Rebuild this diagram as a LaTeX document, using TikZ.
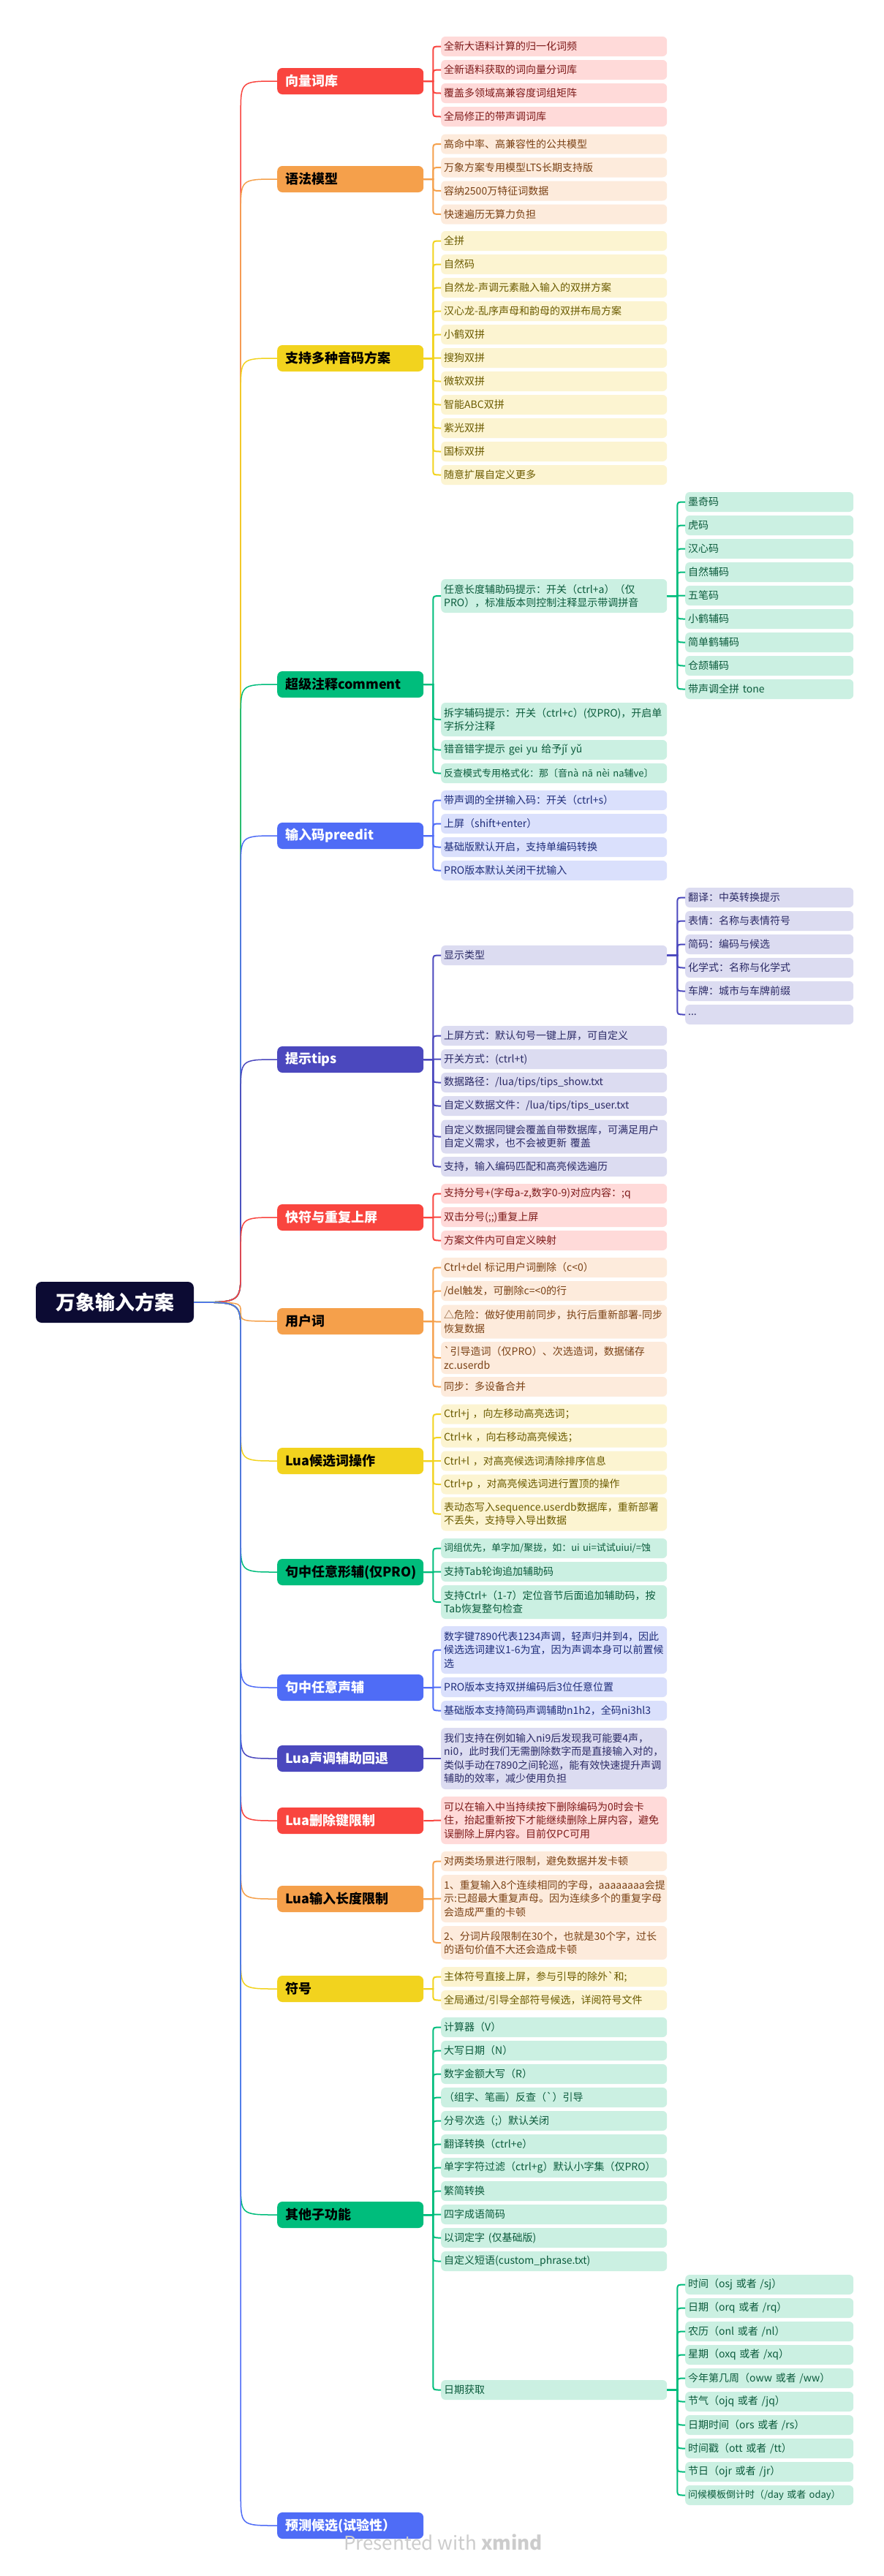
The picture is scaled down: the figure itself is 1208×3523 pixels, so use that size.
\documentclass[tikz,border=0pt]{standalone}
\usepackage{fontspec}
\newfontfamily\cjk{Noto Sans CJK SC}
\usetikzlibrary{calc}

\definecolor{cNavy}{HTML}{0C0B33}
\definecolor{cRed}{HTML}{F9453F}
\definecolor{cRedLight}{HTML}{FFDAD9}
\definecolor{cRedText}{HTML}{7D1A1A}
\definecolor{cOrange}{HTML}{F5A04B}
\definecolor{cOrangeLight}{HTML}{FDEBDC}
\definecolor{cOrangeText}{HTML}{7A4115}
\definecolor{cYellow}{HTML}{F2D31E}
\definecolor{cYellowLight}{HTML}{FCF4D1}
\definecolor{cYellowText}{HTML}{6B5B00}
\definecolor{cGreen}{HTML}{00BD7C}
\definecolor{cGreenLight}{HTML}{CBF0E2}
\definecolor{cGreenText}{HTML}{0B5B3C}
\definecolor{cBlue}{HTML}{4F6CF6}
\definecolor{cBlueLight}{HTML}{DAE0FC}
\definecolor{cBlueText}{HTML}{1F2D7A}
\definecolor{cIndigo}{HTML}{4B48BE}
\definecolor{cIndigoLight}{HTML}{DCDCF1}
\definecolor{cIndigoText}{HTML}{2B2A66}

\newcommand\joinbranch[2]{%
  \draw[#1, line width=1.5pt] let \p1=(root.east), \p2=(#2.west),
    \n1={ifthenelse(\y2>\y1,1,-1)*min(45,abs(\y2-\y1)/2)} in
    (\p1) .. controls (\x1+64,\y1) .. (\x1+64,\y1+\n1)
    -- (\x1+64,\y2-\n1) .. controls (\x1+64,\y2) .. (\p2);}
\newcommand\joinleaf[4]{%
  \draw[#1, line width=2pt] let \p1=(#2.east), \p2=(#3.west),
    \n1={ifthenelse(\y1>\y2,1,-1)*min(7,abs(\y1-\y2))} in
    (\p1) -- (\x1+#4,\y1) -- (\x1+#4,\y2+\n1) .. controls (\x1+#4,\y2) .. (\p2);}

\begin{document}
\begin{tikzpicture}
  [x=1pt, y=-1pt,
    every node/.style={font=\cjk\fontsize{14}{18.5}\selectfont},
    root/.style={fill=cNavy, text=white, rounded corners=8pt, minimum width=216pt,
      minimum height=56pt, font=\cjk\bfseries\fontsize{27}{32}\selectfont},
    branch/.style={fill=#1, rounded corners=7pt, anchor=west, minimum height=36pt,
      text width=178pt, inner xsep=11pt, inner ysep=2pt, align=left,
      font=\cjk\bfseries\fontsize{18}{22}\selectfont},
    leaf/.style={fill=#1Light, text=#1Text, rounded corners=6pt, anchor=west,
      minimum height=27pt, text width=301pt, inner xsep=4pt, inner ysep=2pt, align=left},
    sub/.style={leaf=#1, text width=222pt},
    tight/.style={font=\cjk\fontsize{13}{18.5}\selectfont},
    two/.style={minimum height=46pt},
    three/.style={minimum height=65pt},
    four/.style={minimum height=84pt},
  ]
  \fill[white] (0,0) rectangle (1208,3523);
  \node[root] (root) at (157,1781) {万象输入方案};

  \node[branch=cRed, text=white] (vec) at (379,111) {向量词库};
  \node[leaf=cRed] (vec1) at (603,63.5) {全新大语料计算的归一化词频};
  \node[leaf=cRed] (vec2) at (603,95.5) {全新语料获取的词向量分词库};
  \node[leaf=cRed] (vec3) at (603,127.5) {覆盖多领域高兼容度词组矩阵};
  \node[leaf=cRed] (vec4) at (603,159.5) {全局修正的带声调词库};
  \joinbranch{cRed}{vec}
  \joinleaf{cRed}{vec}{vec1}{13}
  \joinleaf{cRed}{vec}{vec2}{13}
  \joinleaf{cRed}{vec}{vec3}{13}
  \joinleaf{cRed}{vec}{vec4}{13}

  \node[branch=cOrange, text=black] (gram) at (379,245) {语法模型};
  \node[leaf=cOrange] (gram1) at (603,197) {高命中率、高兼容性的公共模型};
  \node[leaf=cOrange] (gram2) at (603,229) {万象方案专用模型LTS长期支持版};
  \node[leaf=cOrange] (gram3) at (603,261) {容纳2500万特征词数据};
  \node[leaf=cOrange] (gram4) at (603,293) {快速遍历无算力负担};
  \joinbranch{cOrange}{gram}
  \joinleaf{cOrange}{gram}{gram1}{13}
  \joinleaf{cOrange}{gram}{gram2}{13}
  \joinleaf{cOrange}{gram}{gram3}{13}
  \joinleaf{cOrange}{gram}{gram4}{13}

  \node[branch=cYellow, text=black] (scheme) at (379,490) {支持多种音码方案};
  \node[leaf=cYellow] (sch1) at (603,329.5) {全拼};
  \node[leaf=cYellow] (sch2) at (603,361.5) {自然码};
  \node[leaf=cYellow] (sch3) at (603,393.5) {自然龙-声调元素融入输入的双拼方案};
  \node[leaf=cYellow] (sch4) at (603,425.5) {汉心龙-乱序声母和韵母的双拼布局方案};
  \node[leaf=cYellow] (sch5) at (603,457.5) {小鹤双拼};
  \node[leaf=cYellow] (sch6) at (603,489.5) {搜狗双拼};
  \node[leaf=cYellow] (sch7) at (603,521.5) {微软双拼};
  \node[leaf=cYellow] (sch8) at (603,553.5) {智能ABC双拼};
  \node[leaf=cYellow] (sch9) at (603,585.5) {紫光双拼};
  \node[leaf=cYellow] (sch10) at (603,617.5) {国标双拼};
  \node[leaf=cYellow] (sch11) at (603,649.5) {随意扩展自定义更多};
  \joinbranch{cYellow}{scheme}
  \joinleaf{cYellow}{scheme}{sch1}{13}
  \joinleaf{cYellow}{scheme}{sch2}{13}
  \joinleaf{cYellow}{scheme}{sch3}{13}
  \joinleaf{cYellow}{scheme}{sch4}{13}
  \joinleaf{cYellow}{scheme}{sch5}{13}
  \joinleaf{cYellow}{scheme}{sch6}{13}
  \joinleaf{cYellow}{scheme}{sch7}{13}
  \joinleaf{cYellow}{scheme}{sch8}{13}
  \joinleaf{cYellow}{scheme}{sch9}{13}
  \joinleaf{cYellow}{scheme}{sch10}{13}
  \joinleaf{cYellow}{scheme}{sch11}{13}

  \node[branch=cGreen, text=black] (cmt) at (379,936) {超级注释comment};
  \node[leaf=cGreen, two] (cmt1) at (603,815) {任意长度辅助码提示：开关（ctrl+a）（仅\\PRO），标准版本则控制注释显示带调拼音};
  \node[leaf=cGreen, two] (cmt2) at (603,984) {拆字辅码提示：开关（ctrl+c）(仅PRO)，开启单\\字拆分注释};
  \node[leaf=cGreen] (cmt3) at (603,1025.5) {错音错字提示 gei yu 给予jǐ yǔ};
  \node[leaf=cGreen, tight] (cmt4) at (603,1057.5) {反查模式专用格式化：那〔音nà nā nèi na辅ve〕};
  \node[sub=cGreen] (aux1) at (937,686.5) {墨奇码};
  \node[sub=cGreen] (aux2) at (937,718.5) {虎码};
  \node[sub=cGreen] (aux3) at (937,750.5) {汉心码};
  \node[sub=cGreen] (aux4) at (937,782.5) {自然辅码};
  \node[sub=cGreen] (aux5) at (937,814.5) {五笔码};
  \node[sub=cGreen] (aux6) at (937,846.5) {小鹤辅码};
  \node[sub=cGreen] (aux7) at (937,878.5) {简单鹤辅码};
  \node[sub=cGreen] (aux8) at (937,910.5) {仓颉辅码};
  \node[sub=cGreen] (aux9) at (937,942.5) {带声调全拼 tone};
  \joinbranch{cGreen}{cmt}
  \joinleaf{cGreen}{cmt}{cmt1}{13}
  \joinleaf{cGreen}{cmt}{cmt2}{13}
  \joinleaf{cGreen}{cmt}{cmt3}{13}
  \joinleaf{cGreen}{cmt}{cmt4}{13}
  \joinleaf{cGreen}{cmt1}{aux1}{14}
  \joinleaf{cGreen}{cmt1}{aux2}{14}
  \joinleaf{cGreen}{cmt1}{aux3}{14}
  \joinleaf{cGreen}{cmt1}{aux4}{14}
  \joinleaf{cGreen}{cmt1}{aux5}{14}
  \joinleaf{cGreen}{cmt1}{aux6}{14}
  \joinleaf{cGreen}{cmt1}{aux7}{14}
  \joinleaf{cGreen}{cmt1}{aux8}{14}
  \joinleaf{cGreen}{cmt1}{aux9}{14}

  \node[branch=cBlue, text=white] (pre) at (379,1143) {输入码preedit};
  \node[leaf=cBlue] (pre1) at (603,1094.5) {带声调的全拼输入码：开关（ctrl+s）};
  \node[leaf=cBlue] (pre2) at (603,1126.5) {上屏（shift+enter）};
  \node[leaf=cBlue] (pre3) at (603,1158.5) {基础版默认开启，支持单编码转换};
  \node[leaf=cBlue] (pre4) at (603,1190.5) {PRO版本默认关闭干扰输入};
  \joinbranch{cBlue}{pre}
  \joinleaf{cBlue}{pre}{pre1}{13}
  \joinleaf{cBlue}{pre}{pre2}{13}
  \joinleaf{cBlue}{pre}{pre3}{13}
  \joinleaf{cBlue}{pre}{pre4}{13}

  \node[branch=cIndigo, text=white] (tips) at (379,1449) {提示tips};
  \node[leaf=cIndigo] (tip1) at (603,1306.5) {显示类型};
  \node[leaf=cIndigo] (tip2) at (603,1416.5) {上屏方式：默认句号一键上屏，可自定义};
  \node[leaf=cIndigo] (tip3) at (603,1448.5) {开关方式：(ctrl+t)};
  \node[leaf=cIndigo] (tip4) at (603,1480.5) {数据路径：/lua/tips/tips\_show.txt};
  \node[leaf=cIndigo] (tip5) at (603,1512.5) {自定义数据文件：/lua/tips/tips\_user.txt};
  \node[leaf=cIndigo, two] (tip6) at (603,1554.5) {自定义数据同键会覆盖自带数据库，可满足用户\\自定义需求，也不会被更新 覆盖};
  \node[leaf=cIndigo] (tip7) at (603,1595.5) {支持，输入编码匹配和高亮候选遍历};
  \node[sub=cIndigo] (kind1) at (937,1227.5) {翻译：中英转换提示};
  \node[sub=cIndigo] (kind2) at (937,1259.5) {表情：名称与表情符号};
  \node[sub=cIndigo] (kind3) at (937,1291.5) {简码：编码与候选};
  \node[sub=cIndigo] (kind4) at (937,1323.5) {化学式：名称与化学式};
  \node[sub=cIndigo] (kind5) at (937,1355.5) {车牌：城市与车牌前缀};
  \node[sub=cIndigo] (kind6) at (937,1387.5) {...};
  \joinbranch{cIndigo}{tips}
  \joinleaf{cIndigo}{tips}{tip1}{13}
  \joinleaf{cIndigo}{tips}{tip2}{13}
  \joinleaf{cIndigo}{tips}{tip3}{13}
  \joinleaf{cIndigo}{tips}{tip4}{13}
  \joinleaf{cIndigo}{tips}{tip5}{13}
  \joinleaf{cIndigo}{tips}{tip6}{13}
  \joinleaf{cIndigo}{tips}{tip7}{13}
  \joinleaf{cIndigo}{tip1}{kind1}{14}
  \joinleaf{cIndigo}{tip1}{kind2}{14}
  \joinleaf{cIndigo}{tip1}{kind3}{14}
  \joinleaf{cIndigo}{tip1}{kind4}{14}
  \joinleaf{cIndigo}{tip1}{kind5}{14}
  \joinleaf{cIndigo}{tip1}{kind6}{14}

  \node[branch=cRed, text=white] (quick) at (379,1665) {快符与重复上屏};
  \node[leaf=cRed] (quick1) at (603,1632.5) {支持分号+(字母a-z,数字0-9)对应内容：;q};
  \node[leaf=cRed] (quick2) at (603,1664.5) {双击分号(;;)重复上屏};
  \node[leaf=cRed] (quick3) at (603,1696.5) {方案文件内可自定义映射};
  \joinbranch{cRed}{quick}
  \joinleaf{cRed}{quick}{quick1}{13}
  \joinleaf{cRed}{quick}{quick2}{13}
  \joinleaf{cRed}{quick}{quick3}{13}

  \node[branch=cOrange, text=black] (user) at (379,1807) {用户词};
  \node[leaf=cOrange] (user1) at (603,1733.5) {Ctrl+del 标记用户词删除（c<0）};
  \node[leaf=cOrange] (user2) at (603,1765.5) {/del触发，可删除c=<0的行};
  \node[leaf=cOrange, two] (user3) at (603,1807.5) {△危险：做好使用前同步，执行后重新部署-同步\\恢复数据};
  \node[leaf=cOrange, minimum height=44pt] (user4) at (603,1857) {`引导造词（仅PRO）、次选造词，数据储存\\zc.userdb};
  \node[leaf=cOrange] (user5) at (603,1896.5) {同步：多设备合并};
  \joinbranch{cOrange}{user}
  \joinleaf{cOrange}{user}{user1}{13}
  \joinleaf{cOrange}{user}{user2}{13}
  \joinleaf{cOrange}{user}{user3}{13}
  \joinleaf{cOrange}{user}{user4}{13}
  \joinleaf{cOrange}{user}{user5}{13}

  \node[branch=cYellow, text=black] (cand) at (379,1998) {Lua候选词操作};
  \node[leaf=cYellow] (cand1) at (603,1934) {Ctrl+j ，向左移动高亮选词；};
  \node[leaf=cYellow] (cand2) at (603,1966) {Ctrl+k ，向右移动高亮候选；};
  \node[leaf=cYellow] (cand3) at (603,1998) {Ctrl+l ，对高亮候选词清除排序信息};
  \node[leaf=cYellow] (cand4) at (603,2030) {Ctrl+p ，对高亮候选词进行置顶的操作};
  \node[leaf=cYellow, two] (cand5) at (603,2070.5) {表动态写入sequence.userdb数据库，重新部署\\不丢失，支持导入导出数据};
  \joinbranch{cYellow}{cand}
  \joinleaf{cYellow}{cand}{cand1}{13}
  \joinleaf{cYellow}{cand}{cand2}{13}
  \joinleaf{cYellow}{cand}{cand3}{13}
  \joinleaf{cYellow}{cand}{cand4}{13}
  \joinleaf{cYellow}{cand}{cand5}{13}

  \node[branch=cGreen, text=black] (shape) at (379,2150) {句中任意形辅(仅PRO)};
  \node[leaf=cGreen, tight] (shape1) at (603,2117.5) {词组优先，单字加/聚拢，如：ui ui=试试uiui/=蚀};
  \node[leaf=cGreen] (shape2) at (603,2149.5) {支持Tab轮询追加辅助码};
  \node[leaf=cGreen, two] (shape3) at (603,2191) {支持Ctrl+（1-7）定位音节后面追加辅助码，按\\Tab恢复整句检查};
  \joinbranch{cGreen}{shape}
  \joinleaf{cGreen}{shape}{shape1}{13}
  \joinleaf{cGreen}{shape}{shape2}{13}
  \joinleaf{cGreen}{shape}{shape3}{13}

  \node[branch=cBlue, text=white] (tone) at (379,2308) {句中任意声辅};
  \node[leaf=cBlue, three] (tone1) at (603,2256.5) {数字键7890代表1234声调，轻声归并到4，因此\\候选选词建议1-6为宜，因为声调本身可以前置候\\选};
  \node[leaf=cBlue] (tone2) at (603,2307.5) {PRO版本支持双拼编码后3位任意位置};
  \node[leaf=cBlue] (tone3) at (603,2339.5) {基础版本支持简码声调辅助n1h2，全码ni3hl3};
  \joinbranch{cBlue}{tone}
  \joinleaf{cBlue}{tone}{tone1}{13}
  \joinleaf{cBlue}{tone}{tone2}{13}
  \joinleaf{cBlue}{tone}{tone3}{13}

  \node[branch=cIndigo, text=white] (back) at (379,2405) {Lua声调辅助回退};
  \node[leaf=cIndigo, four] (back1) at (603,2405) {我们支持在例如输入ni9后发现我可能要4声，\\ni0，此时我们无需删除数字而是直接输入对的，\\类似手动在7890之间轮巡，能有效快速提升声调\\辅助的效率，减少使用负担};
  \joinbranch{cIndigo}{back}
  \joinleaf{cIndigo}{back}{back1}{13}

  \node[branch=cRed, text=white] (del) at (379,2490) {Lua删除键限制};
  \node[leaf=cRed, three] (del1) at (603,2489.5) {可以在输入中当持续按下删除编码为0时会卡\\住，抬起重新按下才能继续删除上屏内容，避免\\误删除上屏内容。目前仅PC可用};
  \joinbranch{cRed}{del}
  \joinleaf{cRed}{del}{del1}{13}

  \node[branch=cOrange, text=black] (len) at (379,2597) {Lua输入长度限制};
  \node[leaf=cOrange] (len1) at (603,2545.5) {对两类场景进行限制，避免数据并发卡顿};
  \node[leaf=cOrange, three] (len2) at (603,2596.5) {1、重复输入8个连续相同的字母，aaaaaaaa会提\\示:已超最大重复声母。因为连续多个的重复字母\\会造成严重的卡顿};
  \node[leaf=cOrange, two] (len3) at (603,2657) {2、分词片段限制在30个，也就是30个字，过长\\的语句价值不大还会造成卡顿};
  \joinbranch{cOrange}{len}
  \joinleaf{cOrange}{len}{len1}{13}
  \joinleaf{cOrange}{len}{len2}{13}
  \joinleaf{cOrange}{len}{len3}{13}

  \node[branch=cYellow, text=black] (sym) at (379,2720) {符号};
  \node[leaf=cYellow] (sym1) at (603,2703.5) {主体符号直接上屏，参与引导的除外`和;};
  \node[leaf=cYellow] (sym2) at (603,2735.5) {全局通过/引导全部符号候选，详阅符号文件};
  \joinbranch{cYellow}{sym}
  \joinleaf{cYellow}{sym}{sym1}{13}
  \joinleaf{cYellow}{sym}{sym2}{13}

  \node[branch=cGreen, text=black] (misc) at (379,3029) {其他子功能};
  \node[leaf=cGreen] (misc1) at (603,2772.5) {计算器（V）};
  \node[leaf=cGreen] (misc2) at (603,2804.5) {大写日期（N）};
  \node[leaf=cGreen] (misc3) at (603,2836.5) {数字金额大写（R）};
  \node[leaf=cGreen] (misc4) at (603,2868.5) {（组字、笔画）反查（`）引导};
  \node[leaf=cGreen] (misc5) at (603,2900.5) {分号次选（;）默认关闭};
  \node[leaf=cGreen] (misc6) at (603,2932.5) {翻译转换（ctrl+e）};
  \node[leaf=cGreen] (misc7) at (603,2964.5) {单字字符过滤（ctrl+g）默认小字集（仅PRO）};
  \node[leaf=cGreen] (misc8) at (603,2996.5) {繁简转换};
  \node[leaf=cGreen] (misc9) at (603,3028.5) {四字成语简码};
  \node[leaf=cGreen] (misc10) at (603,3060.5) {以词定字 (仅基础版)};
  \node[leaf=cGreen] (misc11) at (603,3092.5) {自定义短语(custom\_phrase.txt)};
  \node[leaf=cGreen] (misc12) at (603,3268.5) {日期获取};
  \node[sub=cGreen] (date1) at (937,3124.5) {时间（osj 或者 /sj）};
  \node[sub=cGreen] (date2) at (937,3156.5) {日期（orq 或者 /rq）};
  \node[sub=cGreen] (date3) at (937,3188.5) {农历（onl 或者 /nl）};
  \node[sub=cGreen] (date4) at (937,3220.5) {星期（oxq 或者 /xq）};
  \node[sub=cGreen] (date5) at (937,3252.5) {今年第几周（oww 或者 /ww）};
  \node[sub=cGreen] (date6) at (937,3284.5) {节气（ojq 或者 /jq）};
  \node[sub=cGreen] (date7) at (937,3316.5) {日期时间（ors 或者 /rs）};
  \node[sub=cGreen] (date8) at (937,3348.5) {时间戳（ott 或者 /tt）};
  \node[sub=cGreen] (date9) at (937,3380.5) {节日（ojr 或者 /jr）};
  \node[sub=cGreen, tight] (date10) at (937,3412.5) {问候模板倒计时（/day 或者 oday）};
  \joinbranch{cGreen}{misc}
  \joinleaf{cGreen}{misc}{misc1}{13}
  \joinleaf{cGreen}{misc}{misc2}{13}
  \joinleaf{cGreen}{misc}{misc3}{13}
  \joinleaf{cGreen}{misc}{misc4}{13}
  \joinleaf{cGreen}{misc}{misc5}{13}
  \joinleaf{cGreen}{misc}{misc6}{13}
  \joinleaf{cGreen}{misc}{misc7}{13}
  \joinleaf{cGreen}{misc}{misc8}{13}
  \joinleaf{cGreen}{misc}{misc9}{13}
  \joinleaf{cGreen}{misc}{misc10}{13}
  \joinleaf{cGreen}{misc}{misc11}{13}
  \joinleaf{cGreen}{misc}{misc12}{13}
  \joinleaf{cGreen}{misc12}{date1}{14}
  \joinleaf{cGreen}{misc12}{date2}{14}
  \joinleaf{cGreen}{misc12}{date3}{14}
  \joinleaf{cGreen}{misc12}{date4}{14}
  \joinleaf{cGreen}{misc12}{date5}{14}
  \joinleaf{cGreen}{misc12}{date6}{14}
  \joinleaf{cGreen}{misc12}{date7}{14}
  \joinleaf{cGreen}{misc12}{date8}{14}
  \joinleaf{cGreen}{misc12}{date9}{14}
  \joinleaf{cGreen}{misc12}{date10}{14}

  \node[branch=cBlue, text=white] (pred) at (379,3454) {预测候选(试验性）};
  \joinbranch{cBlue}{pred}

  \node[text=black!20, font=\cjk\fontsize{26}{30}\selectfont] (mark) at (606,3477) {Presented with \textbf{xmind}};
\end{tikzpicture}
\end{document}
